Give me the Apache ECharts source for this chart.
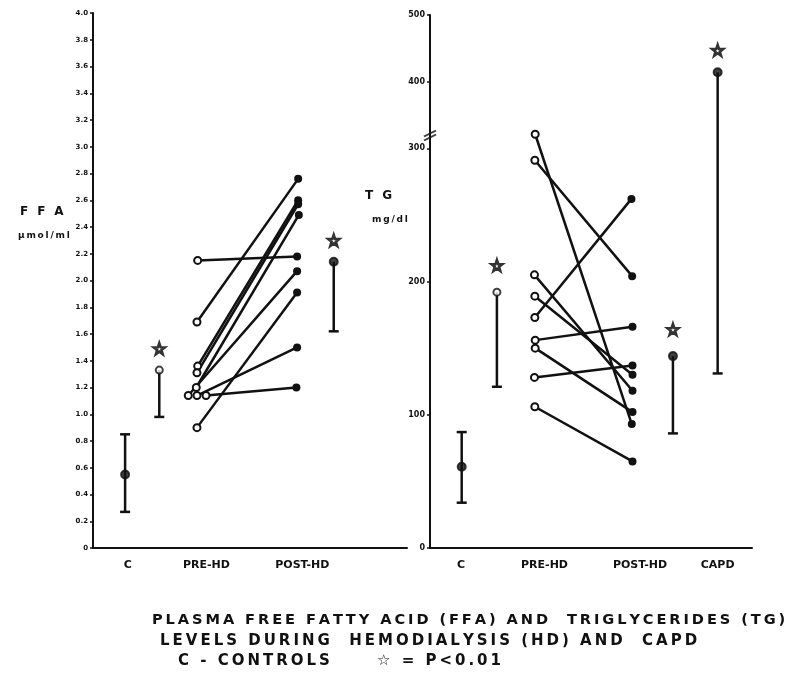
<!DOCTYPE html>
<html><head><meta charset="utf-8">
<script src="https://cdn.jsdelivr.net/npm/echarts@6/dist/echarts.min.js"></script>
<style>html,body{margin:0;padding:0;background:#fff}#c{width:801px;height:673px}</style>
</head><body><div id="c"></div>
<script>
// ================= DATA =================
// Left panel: FFA (umol/ml)
const ffaCategories = ['C', 'PRE-HD', 'POST-HD'];
const ffaCategoryPos = [1.0, 3.25, 6.0];          // axis units (0..9)
const ffaYTicks = [0,0.2,0.4,0.6,0.8,1.0,1.2,1.4,1.6,1.8,2.0,2.2,2.4,2.6,2.8,3.0,3.2,3.4,3.6,3.8,4.0];
// individual patients: pre-HD -> post-HD
const ffaPre     = [2.15, 1.69, 1.36, 1.31, 1.20, 1.14, 1.14, 1.14, 0.90];
const ffaPost    = [2.18, 2.76, 2.60, 2.57, 2.49, 2.07, 1.50, 1.20, 1.91];
const ffaPreX    = [3.0, 2.98, 3.0, 2.98, 2.96, 2.73, 2.98, 3.24, 2.98];
const ffaPostX   = [5.85, 5.88, 5.88, 5.88, 5.9, 5.85, 5.85, 5.83, 5.85];
// group summaries (controls, pre-HD mean, post-HD mean)
const ffaGroupX    = [0.92, 1.9, 6.9];
const ffaGroupMean = [0.55, 1.33, 2.14];
const ffaGroupLow  = [0.27, 0.98, 1.62];
const ffaGroupHigh = [0.85, 1.33, 2.14];
const ffaGroupOpen = [false, true, false];
const ffaStarX = [1.9, 6.9];
const ffaStarY = [1.49, 2.30];

// Right panel: TG (mg/dl), broken axis above 300
const tgCategories = ['C', 'PRE-HD', 'POST-HD', 'CAPD'];
const tgCategoryPos = [0.87, 3.2, 5.87, 8.04];
const tgYTicks = [0, 100, 200, 300, 400, 500];
const tgPre   = [321, 291, 205, 189, 173, 156, 150, 128, 106];
const tgPost  = [93, 204, 118, 130, 262, 166, 102, 137, 65];
const tgPreX  = [2.94, 2.93, 2.92, 2.93, 2.93, 2.94, 2.94, 2.92, 2.93];
const tgPostX = [5.64, 5.65, 5.66, 5.66, 5.63, 5.66, 5.66, 5.66, 5.66];
const tgGroupX    = [0.886, 1.87, 6.79, 8.04];
const tgGroupMean = [61, 192, 144, 414];
const tgGroupLow  = [34, 121, 86, 131];
const tgGroupHigh = [87, 192, 144, 414];
const tgGroupOpen = [false, true, false, false];
const tgStarX = [1.87, 6.79, 8.04];
const tgStarY = [212, 164, 447];
const tgBreakAt = 319;

// ================= SCALE HELPERS =================
// axis compressed by a factor 2 above the break at 300
const tg = v => v <= 300 ? v : 300 + (v - 300) / 2;
const tgInv = t => t <= 300 ? t : 300 + (t - 300) * 2;

const BLACK = '#111';
const STAR = 'path://M0,-10 L2.35,-3.24 L9.51,-3.09 L3.8,1.24 L5.88,8.09 L0,4 L-5.88,8.09 L-3.8,1.24 L-9.51,-3.09 L-2.35,-3.24 Z';
const BREAK = 'path://M-6,2 L6,-4 M-6,6 L6,0';

function errRender(params, api) {
  const x = api.value(0), lo = api.value(1), hi = api.value(2), capTop = api.value(3);
  const a = api.coord([x, lo]), b = api.coord([x, hi]);
  const st = {stroke: BLACK, lineWidth: 2.5};
  const ch = [
    {type: 'line', shape: {x1: a[0], y1: a[1], x2: b[0], y2: b[1]}, style: st},
    {type: 'line', shape: {x1: a[0] - 5, y1: a[1], x2: a[0] + 5, y2: a[1]}, style: st}
  ];
  if (capTop) ch.push({type: 'line', shape: {x1: b[0] - 5, y1: b[1], x2: b[0] + 5, y2: b[1]}, style: st});
  return {type: 'group', children: ch};
}

const series = [];
function addPanel(idx, preX, pre, postX, post, gX, gMean, gLow, gHigh, gOpen, sX, sY, f) {
  for (let i = 0; i < pre.length; i++) {
    series.push({
      type: 'line', xAxisIndex: idx, yAxisIndex: idx, silent: true,
      lineStyle: {color: BLACK, width: 2.5}, itemStyle: {color: BLACK, borderWidth: 2},
      symbolSize: 7, z: 3,
      data: [
        {value: [preX[i], f(pre[i])], symbol: 'emptyCircle', itemStyle: {color: BLACK, borderColor: BLACK, borderWidth: 2}},
        {value: [postX[i], f(post[i])], symbol: 'circle', symbolSize: 8}
      ]
    });
  }
  series.push({
    type: 'custom', xAxisIndex: idx, yAxisIndex: idx, silent: true, z: 2,
    renderItem: errRender,
    encode: {x: 0, y: [1, 2]},
    data: gX.map((x, i) => [x, f(gLow[i]), f(gHigh[i]), gHigh[i] !== gMean[i] ? 1 : 0])
  });
  series.push({
    type: 'scatter', xAxisIndex: idx, yAxisIndex: idx, silent: true, z: 4,
    data: gX.map((x, i) => ({
      value: [x, f(gMean[i])],
      symbol: gOpen[i] ? 'emptyCircle' : 'circle',
      symbolSize: gOpen[i] ? 7 : 8,
      itemStyle: {color: BLACK, borderColor: BLACK, borderWidth: 2}
    }))
  });
  series.push({
    type: 'scatter', xAxisIndex: idx, yAxisIndex: idx, silent: true, z: 4,
    symbol: STAR, symbolSize: 11,
    itemStyle: {color: '#fff', borderColor: '#000', borderWidth: 2.6},
    data: sX.map((x, i) => [x, f(sY[i])])
  });
}
addPanel(0, ffaPreX, ffaPre, ffaPostX, ffaPost, ffaGroupX, ffaGroupMean, ffaGroupLow, ffaGroupHigh, ffaGroupOpen, ffaStarX, ffaStarY, v => v);
addPanel(1, tgPreX, tgPre, tgPostX, tgPost, tgGroupX, tgGroupMean, tgGroupLow, tgGroupHigh, tgGroupOpen, tgStarX, tgStarY, tg);
// axis break mark
series.push({
  type: 'scatter', xAxisIndex: 1, yAxisIndex: 1, silent: true, z: 10,
  symbol: BREAK, symbolSize: [12, 10],
  itemStyle: {color: 'none', borderColor: BLACK, borderWidth: 2},
  data: [[0, tg(tgBreakAt)]]
});

const labelFont = {color: BLACK, fontWeight: 'bold', fontFamily: 'DejaVu Sans'};
function xAxis(gridIndex, cats, pos) {
  return {
    type: 'value', gridIndex, min: 0, max: 9,
    axisLine: {lineStyle: {color: BLACK, width: 2}},
    axisTick: {show: false}, splitLine: {show: false},
    axisLabel: Object.assign({}, labelFont, {
      fontSize: 11, margin: 12,
      customValues: pos,
      formatter: v => { const i = pos.findIndex(p => Math.abs(p - v) < 1e-6); return i >= 0 ? cats[i] : ''; }
    })
  };
}

const spaced = s => s.split('').join('\u2009');
function capText(txt, x, y, size) {
  return {type: 'text', x, y, style: {text: spaced(txt), fill: BLACK, font: 'bold ' + size + 'px "DejaVu Sans"', textVerticalAlign: 'middle'}};
}

const option = {
  animation: false,
  backgroundColor: '#fff',
  grid: [
    {left: 93, right: 394, top: 13, bottom: 125},
    {left: 430, right: 49, top: 15, bottom: 125}
  ],
  xAxis: [xAxis(0, ffaCategories, ffaCategoryPos), xAxis(1, tgCategories, tgCategoryPos)],
  yAxis: [
    {
      type: 'value', gridIndex: 0, min: 0, max: 4, interval: 0.2,
      axisLine: {show: true, lineStyle: {color: BLACK, width: 2}},
      axisTick: {show: true, length: 3, lineStyle: {color: BLACK, width: 1.5}},
      splitLine: {show: false},
      axisLabel: Object.assign({}, labelFont, {fontSize: 7, margin: 5,
        customValues: ffaYTicks,
        formatter: v => v === 0 ? '0' : v.toFixed(1)})
    },
    {
      type: 'value', gridIndex: 1, min: 0, max: 400,
      axisLine: {show: true, lineStyle: {color: BLACK, width: 2}},
      axisTick: {show: true, length: 3, customValues: tgYTicks.map(tg), lineStyle: {color: BLACK, width: 1.5}},
      splitLine: {show: false},
      axisLabel: Object.assign({}, labelFont, {fontSize: 8, margin: 5,
        customValues: tgYTicks.map(tg),
        formatter: t => String(Math.round(tgInv(t)))})
    }
  ],
  graphic: [
    capText('F F A', 20, 212, 12),
    capText('\u03BCmol/ml', 18, 236, 9),
    capText('T G', 365, 196, 12),
    capText('mg/dl', 372, 220, 9),
    capText('PLASMA FREE FATTY ACID (FFA) AND  TRIGLYCERIDES (TG)', 152, 620, 14.6),
    capText('LEVELS DURING  HEMODIALYSIS (HD) AND  CAPD', 160, 641, 15),
    capText('C - CONTROLS', 178, 661, 15),
    capText('\u2606 = P<0.01', 377, 661, 15)
  ],
  series
};
const chart = echarts.init(document.getElementById('c'), null, {renderer: 'canvas'});
chart.setOption(option);
</script></body></html>
